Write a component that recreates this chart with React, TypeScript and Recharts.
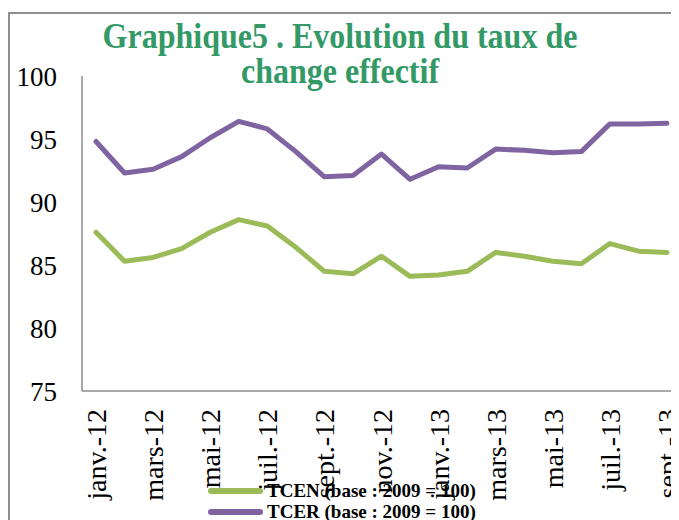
import React from 'react';
import { LineChart, Line, XAxis, YAxis, Legend } from 'recharts';

const months = [
  'janv.-12', 'févr.-12', 'mars-12', 'avr.-12', 'mai-12', 'juin-12', 'juil.-12', 'août-12', 'sept.-12', 'oct.-12', 'nov.-12', 'déc.-12',
  'janv.-13', 'févr.-13', 'mars-13', 'avr.-13', 'mai-13', 'juin-13', 'juil.-13', 'août-13', 'sept.-13',
];
const tcen = [87.6, 85.3, 85.6, 86.3, 87.6, 88.6, 88.1, 86.4, 84.5, 84.3, 85.7, 84.1, 84.2, 84.5, 86.0, 85.7, 85.3, 85.1, 86.7, 86.1, 86.0];
const tcer = [94.8, 92.3, 92.6, 93.6, 95.1, 96.4, 95.8, 94.0, 92.0, 92.1, 93.8, 91.8, 92.8, 92.7, 94.2, 94.1, 93.9, 94.0, 96.2, 96.2, 96.25];
const yTicks = [75, 80, 85, 90, 95, 100];
const seriesNames = ['TCEN (base : 2009 = 100)', 'TCER (base : 2009 = 100)'];
const titleLines = ['Graphique5 . Evolution du taux de', 'change effectif'];

const data = months.map((m, i) => ({ month: m, tcen: tcen[i], tcer: tcer[i] }));

const FONT = '"Liberation Serif", "Times New Roman", Times, serif';
const GREEN = '#9BBB59';
const PURPLE = '#8064A2';

const XTick = (props: any) => {
  const { x, y, payload } = props;
  const ay = y + 18;
  return (
    <text
      x={x}
      y={ay}
      dy={10}
      transform={`rotate(-90 ${x} ${ay})`}
      textAnchor="end"
      fontSize={28}
      fontFamily={FONT}
      fill="#000"
    >
      {payload.value}
    </text>
  );
};

const LegendContent = () => {
  const items = [
    { name: seriesNames[0], color: GREEN },
    { name: seriesNames[1], color: PURPLE },
  ];
  return (
    <div style={{ fontFamily: FONT }}>
      {items.map((it) => (
        <div key={it.name} style={{ display: 'flex', alignItems: 'center', height: 21 }}>
          <div style={{ width: 55, height: 6, borderRadius: 3, background: it.color, marginRight: 4 }} />
          <span style={{ fontSize: 19, fontWeight: 'bold', color: '#000', whiteSpace: 'nowrap', lineHeight: '21px' }}>{it.name}</span>
        </div>
      ))}
    </div>
  );
};

export default function App() {
  return (
    <div style={{ position: 'relative', width: 671, height: 512, overflow: 'hidden' }}>
      <div
        style={{
          position: 'absolute',
          left: 0,
          top: 4,
          width: 700,
          height: 600,
          border: '2px solid #8f8f8f',
          background: '#fff',
        }}
      >
        <LineChart width={680} height={540} data={data} margin={{ top: 62, right: 9, bottom: 1, left: 0 }}>
          <XAxis
            dataKey="month"
            interval={1}
            tickLine={false}
            tickSize={0}
            tickMargin={0}
            height={120}
            padding={{ left: 14, right: 14 }}
            axisLine={{ stroke: '#8c8c8c', strokeWidth: 1.5 }}
            tick={<XTick />}
          />
          <YAxis
            domain={[75, 100]}
            ticks={yTicks}
            width={72}
            tickLine={false}
            tickSize={0}
            tickMargin={25}
            axisLine={{ stroke: '#8c8c8c', strokeWidth: 1.5 }}
            tick={{ fontSize: 27, fill: '#000', fontFamily: FONT }}
          />
          <Legend
            layout="vertical"
            align="center"
            verticalAlign="bottom"
            content={<LegendContent />}
            wrapperStyle={{ position: 'absolute', left: 198, top: 466, width: 'auto', bottom: 'auto' }}
          />
          <Line
            type="linear"
            dataKey="tcen"
            name={seriesNames[0]}
            stroke={GREEN}
            strokeWidth={5}
            strokeLinejoin="round"
            strokeLinecap="round"
            dot={false}
            isAnimationActive={false}
          />
          <Line
            type="linear"
            dataKey="tcer"
            name={seriesNames[1]}
            stroke={PURPLE}
            strokeWidth={5}
            strokeLinejoin="round"
            strokeLinecap="round"
            dot={false}
            isAnimationActive={false}
          />
        </LineChart>
      </div>
      <div
        style={{
          position: 'absolute',
          left: 0,
          top: 9.5,
          width: 664,
          textAlign: 'center',
          fontFamily: FONT,
          fontWeight: 'bold',
          fontSize: 32,
          lineHeight: '32px',
          color: '#339966',
          transform: 'scaleY(1.1)',
          transformOrigin: 'top',
          pointerEvents: 'none',
        }}
      >
        <div>{titleLines[0]}</div>
        <div>{titleLines[1]}</div>
      </div>
    </div>
  );
}
